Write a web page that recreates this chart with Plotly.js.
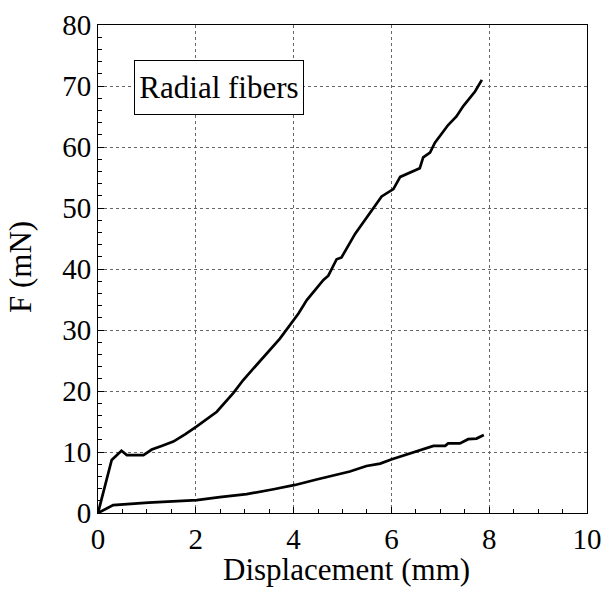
<!DOCTYPE html>
<html>
<head>
<meta charset="utf-8">
<script src="https://cdn.plot.ly/plotly-3.0.1.min.js"></script>
<style>html,body{margin:0;padding:0;background:#fff;}#chart{width:605px;height:590px;}</style>
</head>
<body>
<div id="chart"></div>
<script>
// Upper curve
const upperX = [0, 0.28, 0.48, 0.59, 0.93, 1.1, 1.3, 1.54, 1.78, 2.02, 2.43, 2.77, 2.97, 3.72, 4.1, 4.27, 4.61, 4.71, 4.88, 4.98, 5.26, 5.56, 5.8, 6.04, 6.18, 6.58, 6.65, 6.79, 6.89, 7.16, 7.33, 7.47, 7.71, 7.85];
const upperY = [0, 8.7, 10.2, 9.5, 9.5, 10.4, 11.0, 11.7, 12.9, 14.2, 16.6, 19.7, 21.8, 28.6, 32.7, 34.9, 38.2, 38.9, 41.6, 41.9, 45.8, 49.1, 51.9, 53.1, 55.1, 56.5, 58.3, 59.1, 60.7, 63.6, 65.0, 66.7, 69.1, 71.0];
// Lower curve
const lowerX = [0, 0.31, 1.03, 2.02, 2.49, 3.04, 3.59, 4.03, 4.47, 4.95, 5.15, 5.49, 5.77, 6.01, 6.45, 6.86, 7.1, 7.16, 7.4, 7.57, 7.74, 7.89];
const lowerY = [0, 1.3, 1.7, 2.1, 2.6, 3.1, 3.9, 4.6, 5.5, 6.5, 6.8, 7.7, 8.1, 8.8, 9.9, 11.0, 11.0, 11.4, 11.4, 12.1, 12.2, 12.8];
const xTicks = [0, 2, 4, 6, 8, 10];
const yTicks = [0, 10, 20, 30, 40, 50, 60, 70, 80];
const labelText = "Radial fibers";
const xTitle = "Displacement (mm)";
const yTitle = "F (mN)";

const font = "Liberation Serif, Times New Roman, serif";
const traces = [
  {x: upperX, y: upperY, mode: "lines", line: {color: "#000", width: 2.7}, hoverinfo: "skip"},
  {x: lowerX, y: lowerY, mode: "lines", line: {color: "#000", width: 2.7}, hoverinfo: "skip"}
];
const axisCommon = {
  showline: true, linecolor: "#000", linewidth: 1, mirror: true,
  ticks: "inside", ticklen: 6, tickcolor: "#000",
  showgrid: true, gridcolor: "#666", griddash: "dot", gridwidth: 1,
  zeroline: false, tickfont: {family: font, size: 29, color: "#000"}
};
const L = 98, R = 587, T = 25, B = 513, W = 605, H = 590;
const px = v => (v - L) / (R - L);
const py = v => (B - v) / (B - T);
const layout = {
  width: W, height: H,
  margin: {l: L, r: W - R, t: T, b: H - B},
  paper_bgcolor: "#fff", plot_bgcolor: "#fff",
  showlegend: false,
  xaxis: Object.assign({}, axisCommon, {
    range: [0, 10], tickvals: xTicks, ticktext: xTicks.map(String),
    minor: {dtick: 0.5, ticks: "inside", ticklen: 4, tickcolor: "#000", showgrid: false}
  }),
  yaxis: Object.assign({}, axisCommon, {
    range: [0, 80], tickvals: yTicks, ticktext: yTicks.map(String),
    minor: {dtick: 2, ticks: "inside", ticklen: 4, tickcolor: "#000", showgrid: false}
  }),
  annotations: [
    {
      text: labelText, xref: "paper", yref: "paper",
      x: px(219), y: py(87.5), xanchor: "center", yanchor: "middle",
      showarrow: false, font: {family: font, size: 31, color: "#000"},
      width: 162, height: 47, align: "center", valign: "middle",
      bordercolor: "#000", borderwidth: 1, borderpad: 3, bgcolor: "#fff"
    },
    {
      text: xTitle, xref: "paper", yref: "paper",
      x: px(346), y: py(569), xanchor: "center", yanchor: "middle",
      showarrow: false, font: {family: font, size: 31, color: "#000"}
    },
    {
      text: yTitle, xref: "paper", yref: "paper", textangle: -90,
      x: px(20), y: py(267), xanchor: "center", yanchor: "middle",
      showarrow: false, font: {family: font, size: 31, color: "#000"}
    }
  ]
};
Plotly.newPlot("chart", traces, layout, {staticPlot: true, displayModeBar: false});
</script>
</body>
</html>
